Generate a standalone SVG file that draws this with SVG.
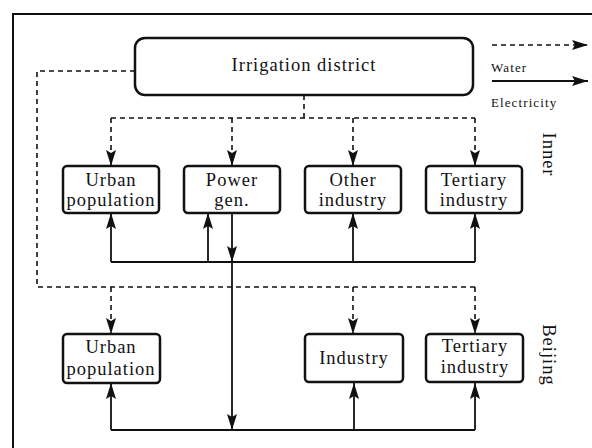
<svg xmlns="http://www.w3.org/2000/svg" width="592" height="448" viewBox="0 0 592 448">
<defs>
<marker id="ah" viewBox="0 0 16 10" refX="16" refY="5" markerWidth="16" markerHeight="10" markerUnits="userSpaceOnUse" orient="auto">
<path d="M0,0 L16,5 L0,10 L3,5 Z" fill="#111"/>
</marker>
</defs>
<style>
.box{fill:#fff;stroke:#111;stroke-width:2.5}
.t{font-family:'Liberation Serif','Times New Roman',serif;font-size:18.5px;letter-spacing:1px;fill:#111;text-anchor:middle}
.s{font-family:'Liberation Serif','Times New Roman',serif;font-size:13px;fill:#111;letter-spacing:1.1px}
.w{fill:none;stroke:#111;stroke-width:1.6;stroke-dasharray:5,4}
.e{fill:none;stroke:#111;stroke-width:1.8}
</style>
<rect x="0" y="0" width="592" height="448" fill="#fff"/>
<rect x="13" y="14" width="620" height="460" fill="none" stroke="#111" stroke-width="2"/>
<g id="connectors">
<path class="w" d="M135,71 H37 V287 H475"/>
<path class="w" d="M304,95 V118"/>
<path class="w" d="M111,118 H475"/>
<path class="w" d="M111,118 V166" marker-end="url(#ah)"/>
<path class="w" d="M232,118 V166" marker-end="url(#ah)"/>
<path class="w" d="M353,118 V166" marker-end="url(#ah)"/>
<path class="w" d="M475,118 V166" marker-end="url(#ah)"/>
<path class="w" d="M111,287 V334" marker-end="url(#ah)"/>
<path class="w" d="M353,287 V334" marker-end="url(#ah)"/>
<path class="w" d="M475,287 V334" marker-end="url(#ah)"/>
<path class="e" d="M111,262 H475"/>
<path class="e" d="M111,262 V213" marker-end="url(#ah)"/>
<path class="e" d="M208,262 V213" marker-end="url(#ah)"/>
<path class="e" d="M353,262 V213" marker-end="url(#ah)"/>
<path class="e" d="M475,262 V213" marker-end="url(#ah)"/>
<path class="e" d="M232,213 V262" marker-end="url(#ah)"/>
<path class="e" d="M232,262 V430" marker-end="url(#ah)"/>
<path class="e" d="M111,430 H475"/>
<path class="e" d="M111,430 V383" marker-end="url(#ah)"/>
<path class="e" d="M354,430 V383" marker-end="url(#ah)"/>
<path class="e" d="M475,430 V383" marker-end="url(#ah)"/>
</g>
<g id="legend">
<path class="w" d="M492,45 H588" marker-end="url(#ah)"/>
<text class="s" x="491" y="72">Water</text>
<path class="e" d="M492,81 H588" marker-end="url(#ah)"/>
<text class="s" x="491" y="107">Electricity</text>
</g>
<g id="irrigation"><rect class="box" x="135" y="38" width="338" height="57" rx="10"/><text class="t" x="304" y="71">Irrigation district</text></g>
<g id="urban1"><rect class="box" x="63" y="166" width="96" height="47" rx="4"/><text class="t" x="111" y="186">Urban</text><text class="t" x="111" y="206">population</text></g>
<g id="power"><rect class="box" x="184" y="166" width="96" height="47" rx="4"/><text class="t" x="232" y="186">Power</text><text class="t" x="232" y="206">gen.</text></g>
<g id="other"><rect class="box" x="305" y="166" width="96" height="47" rx="4"/><text class="t" x="353" y="186">Other</text><text class="t" x="353" y="206">industry</text></g>
<g id="tertiary1"><rect class="box" x="426" y="166" width="96" height="47" rx="4"/><text class="t" x="474" y="186">Tertiary</text><text class="t" x="474" y="206">industry</text></g>
<g id="urban2"><rect class="box" x="63" y="334" width="97" height="49" rx="4"/><text class="t" x="111" y="353">Urban</text><text class="t" x="111" y="375">population</text></g>
<g id="industry"><rect class="box" x="305" y="334" width="98" height="48" rx="4"/><text class="t" x="354" y="364">Industry</text></g>
<g id="tertiary2"><rect class="box" x="426" y="334" width="97" height="48" rx="4"/><text class="t" x="475" y="352">Tertiary</text><text class="t" x="475" y="373">industry</text></g>
<g id="labels">
<text class="t" transform="translate(543,154.5) rotate(90)">Inner</text>
<text class="t" transform="translate(543,355) rotate(90)">Beijing</text>
</g>
</svg>
